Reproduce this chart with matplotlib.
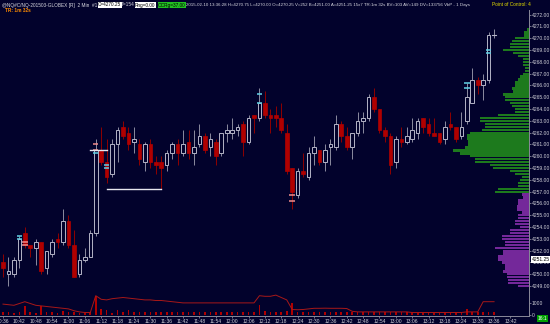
import matplotlib
matplotlib.use("Agg")
import matplotlib.pyplot as plt
from matplotlib.patches import Rectangle
import numpy as np

# ---------------- data ----------------
opens  = [4251.0,4250.0,4250.0,4251.25,4253.5,4252.5,4252.25,4252.75,4250.5,4251.75,
          4253.0,4252.75,4254.5,4252.5,4250.0,4251.25,4251.5,4253.5,4260.5,4259.5,
          4258.5,4261.0,4262.5,4262.0,4261.25,4261.0,4259.5,4261.0,4259.5,4259.5,
          4259.25,4260.25,4261.0,4260.25,4261.25,4260.25,4261.0,4261.75,4260.75,4261.25,
          4260.25,4262.0,4262.0,4262.25,4262.75,4261.25,4263.5,4263.25,4264.5,4263.5,
          4263.5,4263.25,4262.0,4259.0,4256.75,4258.75,4258.25,4260.25,4260.5,4259.5,
          4260.75,4260.75,4262.75,4261.75,4260.75,4262.0,4263.0,4263.25,4265.0,4264.0,
          4262.25,4261.75,4259.5,4261.5,4261.25,4261.5,4262.0,4263.25,4262.75,4262.0,
          4262.0,4261.5,4262.75,4262.5,4261.75,4263.0,4264.5,4266.5,4266.0,4266.5,4270.25]
highs  = [4251.75,4251.5,4251.5,4253.25,4254.0,4252.5,4253.0,4252.75,4252.0,4253.0,
          4253.5,4255.5,4255.0,4253.75,4251.75,4252.25,4253.75,4261.5,4262.5,4261.5,
          4261.5,4262.5,4263.0,4262.5,4262.5,4261.5,4261.25,4261.5,4260.0,4260.0,
          4260.5,4261.25,4261.5,4262.25,4262.25,4262.25,4262.75,4262.0,4262.0,4261.5,
          4262.0,4262.75,4263.25,4262.75,4263.0,4263.5,4263.5,4265.75,4265.5,4264.0,
          4264.25,4264.5,4262.75,4259.0,4259.0,4260.25,4260.75,4261.75,4260.5,4261.0,
          4261.5,4263.5,4263.0,4262.5,4262.0,4263.75,4263.75,4265.25,4265.75,4264.0,
          4262.5,4262.0,4261.75,4262.5,4262.5,4263.25,4263.25,4263.25,4263.25,4263.25,
          4262.0,4263.0,4263.75,4262.5,4263.75,4266.25,4267.5,4266.75,4267.0,4270.5,4270.75]
lows   = [4249.75,4249.0,4249.75,4250.5,4252.25,4251.5,4250.75,4250.0,4250.0,4251.5,
          4252.25,4252.5,4252.25,4249.75,4249.75,4251.0,4251.5,4253.25,4259.25,4257.75,
          4258.25,4259.5,4261.5,4260.5,4260.25,4259.25,4258.75,4259.0,4258.5,4257.25,
          4258.75,4259.75,4259.25,4260.0,4259.75,4259.25,4260.75,4260.25,4260.0,4259.25,
          4260.0,4261.25,4261.5,4261.75,4260.0,4261.0,4262.0,4263.0,4263.25,4262.0,
          4262.5,4262.0,4258.5,4255.5,4256.5,4258.25,4258.0,4259.25,4259.25,4258.75,
          4259.25,4260.5,4261.25,4260.5,4259.75,4261.75,4262.0,4263.0,4263.75,4262.0,
          4261.25,4258.5,4259.0,4260.75,4261.0,4261.25,4261.5,4262.0,4261.75,4261.75,
          4261.0,4261.0,4262.25,4261.25,4261.5,4262.75,4264.5,4265.25,4264.75,4266.25,4270.0]
closes = [4250.5,4250.25,4251.25,4253.0,4252.5,4252.25,4252.75,4250.25,4252.0,4252.75,
          4252.75,4254.5,4252.5,4249.75,4251.25,4251.5,4253.5,4260.5,4259.5,4258.25,
          4261.0,4262.25,4261.75,4261.0,4261.5,4259.75,4261.0,4259.5,4259.25,4259.0,
          4260.25,4261.0,4260.25,4261.0,4260.25,4260.75,4261.75,4260.5,4261.5,4260.0,
          4262.0,4262.25,4262.25,4262.5,4261.25,4263.25,4263.25,4264.5,4263.5,4263.25,
          4263.25,4262.25,4258.75,4257.0,4258.75,4258.5,4260.25,4260.75,4259.5,4260.5,
          4261.0,4262.75,4261.75,4260.75,4262.0,4263.0,4263.25,4265.0,4264.0,4262.25,
          4261.75,4259.25,4261.5,4261.25,4261.75,4262.25,4263.0,4262.5,4262.0,4261.75,
          4261.25,4262.5,4262.5,4261.5,4262.5,4265.0,4266.5,4266.0,4266.5,4270.25,4270.25]
volumes = [330,330,200,330,800,330,200,750,330,250,
           200,400,330,250,200,200,250,1650,520,470,
           200,450,330,450,300,300,250,300,250,300,
           250,300,250,300,250,300,250,300,250,300,
           300,250,300,250,300,250,300,900,350,300,
           300,300,350,1050,300,250,300,250,300,250,
           300,250,300,300,250,300,250,300,250,300,
           300,250,300,250,300,250,300,250,300,250,
           250,300,250,300,250,500,300,250,300,250,300]
vol_line = [950,900,850,1000,1150,1000,850,800,750,700,
            650,600,550,400,300,250,250,1650,1350,1300,
            1400,1450,1500,1450,1400,1350,1300,1300,1250,1250,
            1200,1150,1100,1050,1050,1050,1050,1050,1050,1050,
            1050,1050,1050,1050,1050,1050,1050,1650,1600,1600,
            1700,1500,1300,500,480,500,550,600,600,610,
            600,600,600,580,350,300,300,300,300,300,
            300,300,300,300,300,250,250,250,250,250,
            250,250,250,250,250,300,300,300,1150,1150,1150]
time_labels = ["10:36","10:42","10:48","10:54","11:00","11:06","11:12","11:18","11:24",
               "11:30","11:36","11:42","11:48","11:54","12:00","12:06","12:12","12:18",
               "12:24","12:30","12:36","12:42","12:48","12:54","13:00","13:06","13:12",
               "13:18","13:24","13:30","13:36","13:42"]
# marker pairs (candle index, price, kind)
mark_idx    = [3, 3, 4, 4, 17, 17, 17, 19, 19, 47, 47, 53, 53, 85, 85, 89, 89]
mark_price  = [4253.25,4253.0,4252.75,4252.5,4261.0,4260.5,4260.25,4259.25,4259.0,
               4265.25,4264.5,4256.75,4256.25,4266.25,4265.75,4269.0,4268.75]
mark_kind   = ["c","c","p","p","p","p","c","c","c","c","c","p","p","c","c","c","c"]
# horizontal reference lines (start idx, end idx, price)
hl_start = [16, 19]
hl_end   = [19, 29]
hl_price = [4260.5, 4257.25]
# volume profile (price rows, volume)
prof_prices = [4270.75-0.25*i for i in range(88)]
prof_vol = [80,200,200,560,680,760,760,1040,640,440,240,240,240,160,160,240,360,440,560,560,
            680,640,1040,960,960,760,680,560,560,1240,1960,1960,1760,1760,1880,2360,2480,2480,2440,2440,
            2560,3040,2760,2360,2160,2160,1560,1440,760,560,280,360,440,440,1240,1360,
            280,240,440,440,480,480,280,440,440,560,560,360,760,760,1080,1080,960,960,1360,1040,
            1040,1240,1240,1080,960,960,1040,880,880,840,840,440]
POC_SPLIT = 4256.75   # rows at/below this are purple

# ---------------- style ----------------
BG = "#02022c"
W, H = 550, 324
fig = plt.figure(figsize=(5.5, 3.24), dpi=100, facecolor=BG)
plt.rcParams['font.family'] = ['Liberation Sans', 'DejaVu Sans']

def fx(px): return px / W
def fy(py): return 1 - py / H

AX_R = 529
ax = fig.add_axes([0, fy(292), fx(AX_R), (292 - 10) / H], facecolor=BG)
axv = fig.add_axes([0, fy(316), fx(AX_R), (316 - 292) / H], facecolor=BG)

xlo, xhi = -0.55, 96.4
pt = 11.8
ylo = 4271 - (292 - 26.5) / pt
yhi = 4271 + (26.5 - 10) / pt

# volume profile (drawn on a twin axes sharing price)
axp = ax.twiny()
axp.set_xlim(AX_R * 40, 0)
cols = ["#1d7a1d" if p > POC_SPLIT else "#74289a" for p in prof_prices]
axp.barh(prof_prices, prof_vol, height=0.2, color=cols, linewidth=0, zorder=1)
axp.set_xticks([])
for s in axp.spines.values():
    s.set_visible(False)

ax.set_zorder(axp.get_zorder() + 1)
ax.patch.set_visible(False)
axp.patch.set_facecolor(BG)

WHITE_EDGE = "#b4b4c6"
WICK_W = "#8c8ca0"
RED = "#b00000"
WICK_R = "#900000"
bw = 0.33
for i, (o, h, l, c) in enumerate(zip(opens, highs, lows, closes)):
    up = c >= o
    top, bot = max(o, c), min(o, c)
    if up:
        ax.plot([i, i], [top, h], color=WICK_W, lw=0.7, solid_capstyle='butt', zorder=3)
        ax.plot([i, i], [l, bot], color=WICK_W, lw=0.7, solid_capstyle='butt', zorder=3)
        if top - bot < 0.05:
            ax.plot([i - bw, i + bw], [top, top], color=WHITE_EDGE, lw=0.8, zorder=4)
        else:
            ax.add_patch(Rectangle((i - bw, bot), 2 * bw, top - bot, facecolor=BG,
                                   edgecolor=WHITE_EDGE, lw=0.7, zorder=4))
    else:
        ax.plot([i, i], [l, h], color=WICK_R, lw=0.7, solid_capstyle='butt', zorder=3)
        ax.add_patch(Rectangle((i - bw, bot), 2 * bw, max(top - bot, 0.08), facecolor=RED,
                               edgecolor=RED, lw=0.5, zorder=4))

for i, p, k in zip(mark_idx, mark_price, mark_kind):
    ax.plot([i - 0.5, i + 0.5], [p, p], color="#62d2e6" if k == "c" else "#f28c8c",
            lw=1.1, solid_capstyle='butt', zorder=5)

for s0, s1, p in zip(hl_start, hl_end, hl_price):
    ax.plot([s0, s1], [p, p], color="#e6e6ee", lw=1.0, zorder=5)

ax.set_xlim(xlo, xhi)
ax.set_ylim(ylo, yhi)
axp.set_ylim(ylo, yhi)
ax.set_xticks([])
yt = np.arange(4249, 4273, 1.0)
ax.yaxis.tick_right()
ax.set_yticks(yt)
ax.set_yticklabels([f"{v:.2f}" for v in yt])
ax.tick_params(axis='y', colors="#9a9aa8", labelcolor="#d0d0d8", labelsize=3.6,
               length=1.5, width=0.5, pad=0.6)
for name, s in ax.spines.items():
    s.set_visible(name == "right")
ax.spines["right"].set_color("#8a8a9a")
ax.spines["right"].set_linewidth(0.7)

# current price box
ax.text(1.006, (4251.25 - ylo) / (yhi - ylo), "4251.25", transform=ax.transAxes,
        fontsize=3.6, color="black", va="center", ha="left",
        bbox=dict(boxstyle="square,pad=0.15", fc="white", ec="none"), zorder=10,
        clip_on=False)

# volume panel
idx = np.arange(len(volumes))
axv.bar(idx, volumes, width=0.3, color=RED, linewidth=0)
axv.plot(idx, vol_line, color="#a81818", lw=0.7)
axv.set_xlim(xlo, xhi)
axv.set_ylim(-42, (315.5 - 292) / 12 * 1000)
axv.yaxis.tick_right()
axv.set_yticks([0, 1000])
axv.set_yticklabels(["0", "1000"])
axv.tick_params(axis='y', colors="#9a9aa8", labelcolor="#d0d0d8", labelsize=3.6,
                length=1.5, width=0.5, pad=0.6)
axv.set_xticks(np.arange(0, 3 * len(time_labels), 3))
axv.set_xticklabels(time_labels)
axv.tick_params(axis='x', colors="#9a9aa8", labelcolor="#d0d0d8", labelsize=3.6,
                length=1.5, width=0.5, pad=0.8)
for name, s in axv.spines.items():
    s.set_visible(name in ("right", "bottom"))
    s.set_color("#8a8a9a")
    s.set_linewidth(0.7)

# header
hy = fy(5)
fs = 3.4
fig.text(fx(2), hy, "@NQ#C/NQ-201503-GLOBEX [R]  2 Min  #1", fontsize=fs, color="#d8d8e0", va="center")
fig.text(fx(98), hy, "C=4270.25", fontsize=fs, color="black", va="center",
         bbox=dict(boxstyle="square,pad=0.1", fc="white", ec="none"))
fig.text(fx(121), hy, "T=154", fontsize=fs, color="#d8d8e0", va="center")
fig.text(fx(135), hy, "Rng=0.00", fontsize=fs, color="black", va="center",
         bbox=dict(boxstyle="square,pad=0.1", fc="white", ec="none"))
fig.text(fx(158), hy, "OCRg=37.00", fontsize=fs, color="black", va="center",
         bbox=dict(boxstyle="square,pad=0.1", fc="#22c022", ec="none"))
fig.text(fx(186), hy, "2015-02-10 13:36:28 H=4270.75 L=4270.00 O=4270.25 V=252 B=4251.00 "
         "A=4251.25 15x7 TR:1m 32s BV=103 AV=149 DV=133756 VbP - 1 Days",
         fontsize=3.2, color="#d8d8e0", va="center")
fig.text(fx(492), hy, "Point of Control: 4", fontsize=fs, color="#e8e000", va="center")
fig.text(fx(5), fy(11), "TR: 1m 32s", fontsize=fs, color="#ff8c00", va="center", fontweight="bold")

fig.text(fx(538), fy(318.5), "16:1", fontsize=3.6, color="white", va="center",
         bbox=dict(boxstyle="square,pad=0.15", fc="#00a000", ec="none"))

fig.savefig("out.png", dpi=100, facecolor=BG)
